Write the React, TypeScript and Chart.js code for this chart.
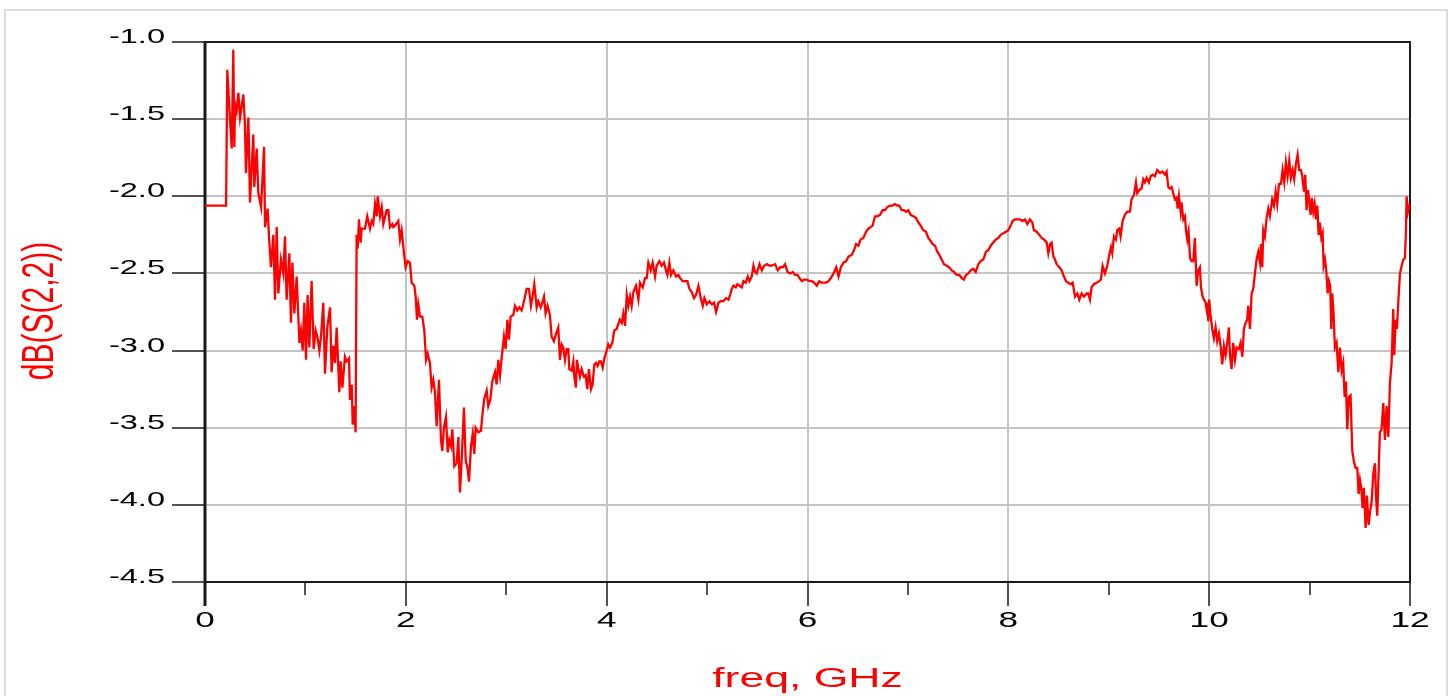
import React, { useEffect, useRef } from "react";
import { Chart, registerables } from "chart.js";

Chart.register(...registerables);

// ---- axes ----
const X_MIN = 0;
const X_MAX = 12;
const Y_MIN = -4.5;
const Y_MAX = -1.0;
const X_TITLE = "freq, GHz";
const Y_TITLE = "dB(S(2,2))";
const X_TICK_LABELS = ["0", "2", "4", "6", "8", "10", "12"];
const Y_TICK_LABELS = ["-1.0", "-1.5", "-2.0", "-2.5", "-3.0", "-3.5", "-4.0", "-4.5"];

// ---- dB(S(2,2)) vs freq (GHz) ----
const band0to2: [number, number][] = [
  [0, -2.06], [0.21, -2.06], [0.222, -1.18], [0.249, -1.5], [0.266, -1.69], [0.282, -1.05],
  [0.292, -1.68], [0.299, -1.4], [0.315, -1.45], [0.332, -1.33], [0.349, -1.49], [0.382, -1.34],
  [0.398, -1.54], [0.408, -1.85], [0.432, -1.49], [0.448, -2.04], [0.481, -1.6], [0.491, -1.94],
  [0.515, -1.69], [0.531, -1.98], [0.558, -2.07], [0.588, -1.68], [0.598, -2.2], [0.624, -2.08],
  [0.637, -2.26], [0.657, -2.46], [0.681, -2.25], [0.697, -2.67], [0.714, -2.2], [0.73, -2.63],
  [0.757, -2.41], [0.78, -2.5], [0.797, -2.26], [0.813, -2.67], [0.84, -2.37], [0.856, -2.82],
  [0.87, -2.43], [0.89, -2.76], [0.913, -2.52], [0.94, -2.95], [0.956, -2.87], [0.973, -3.0],
  [0.989, -2.69], [1.006, -3.06], [1.022, -2.64], [1.039, -2.98], [1.062, -2.55], [1.082, -2.99],
  [1.102, -2.87], [1.122, -2.92], [1.139, -3.0], [1.155, -2.91], [1.178, -2.69], [1.195, -3.15],
  [1.218, -2.85], [1.245, -2.72], [1.261, -3.14], [1.278, -2.97], [1.295, -3.08], [1.311, -2.85],
  [1.338, -3.27], [1.351, -3.07], [1.368, -3.24], [1.394, -3.04], [1.411, -3.07], [1.434, -3.05],
  [1.444, -3.32], [1.461, -3.22], [1.471, -3.48], [1.487, -3.36], [1.5, -3.53], [1.51, -2.25],
  [1.52, -2.34], [1.534, -2.15], [1.55, -2.3], [1.56, -2.21], [1.593, -2.21], [1.616, -2.13],
  [1.643, -2.21], [1.66, -2.16], [1.676, -2.18], [1.693, -2.05], [1.71, -2.13], [1.72, -2.0],
  [1.743, -2.13], [1.76, -2.07], [1.776, -2.18], [1.809, -2.09], [1.826, -2.09], [1.842, -2.2],
  [1.865, -2.18], [1.876, -2.2], [1.892, -2.19], [1.925, -2.16], [1.942, -2.28], [1.958, -2.22],
  [1.985, -2.39],
];

const band2to4: [number, number][] = [
  [1.998, -2.46], [2.018, -2.42], [2.041, -2.43], [2.058, -2.56], [2.085, -2.58], [2.098, -2.65],
  [2.111, -2.8], [2.124, -2.7], [2.141, -2.78], [2.164, -2.78], [2.184, -2.87], [2.201, -3.06],
  [2.217, -3.02], [2.24, -3.08], [2.257, -3.24], [2.274, -3.19], [2.29, -3.27], [2.307, -3.49],
  [2.33, -3.19], [2.35, -3.58], [2.363, -3.65], [2.38, -3.5], [2.4, -3.43], [2.417, -3.66],
  [2.433, -3.58], [2.45, -3.62], [2.463, -3.51], [2.483, -3.75], [2.506, -3.73], [2.523, -3.56],
  [2.539, -3.92], [2.556, -3.71], [2.579, -3.37], [2.596, -3.71], [2.616, -3.77], [2.629, -3.85],
  [2.649, -3.62], [2.666, -3.54], [2.682, -3.67], [2.695, -3.5], [2.722, -3.53], [2.748, -3.52],
  [2.765, -3.4], [2.782, -3.31], [2.805, -3.26], [2.821, -3.36], [2.841, -3.32], [2.861, -3.2],
  [2.888, -3.14], [2.904, -3.22], [2.921, -3.06], [2.938, -3.16], [2.954, -3.05], [2.977, -2.91],
  [2.994, -2.99], [3.011, -2.8], [3.027, -2.93], [3.044, -2.78], [3.07, -2.77], [3.087, -2.71],
  [3.11, -2.74], [3.13, -2.72], [3.153, -2.74], [3.18, -2.67], [3.203, -2.6], [3.226, -2.6],
  [3.246, -2.71], [3.26, -2.66], [3.279, -2.57], [3.303, -2.72], [3.319, -2.68], [3.343, -2.72],
  [3.359, -2.69], [3.376, -2.65], [3.392, -2.76], [3.412, -2.71], [3.435, -2.77], [3.452, -2.91],
  [3.475, -2.94], [3.492, -2.9], [3.518, -2.85], [3.535, -3.06], [3.552, -2.96], [3.568, -2.98],
  [3.585, -3.06], [3.601, -2.99], [3.618, -2.99], [3.628, -3.12], [3.651, -3.13], [3.668, -3.07],
  [3.678, -3.17], [3.694, -3.24], [3.704, -3.06], [3.718, -3.12], [3.734, -3.17], [3.751, -3.12],
  [3.774, -3.17], [3.791, -3.16], [3.807, -3.25], [3.824, -3.12], [3.844, -3.25], [3.86, -3.22],
  [3.877, -3.09], [3.894, -3.08], [3.91, -3.1], [3.927, -3.07], [3.943, -3.07], [3.96, -3.11],
  [3.977, -3.05],
];

const band4to6: [number, number][] = [
  [4.0, -3.0], [4.016, -2.96], [4.033, -2.98], [4.056, -2.95], [4.076, -2.87], [4.1, -2.86],
  [4.13, -2.8], [4.15, -2.82], [4.166, -2.76], [4.183, -2.84], [4.2, -2.64], [4.216, -2.71],
  [4.233, -2.65], [4.249, -2.71], [4.266, -2.62], [4.292, -2.58], [4.316, -2.67], [4.332, -2.56],
  [4.359, -2.59], [4.382, -2.53], [4.399, -2.53], [4.415, -2.43], [4.439, -2.48], [4.458, -2.43],
  [4.482, -2.52], [4.498, -2.45], [4.525, -2.42], [4.548, -2.45], [4.571, -2.43], [4.591, -2.48],
  [4.605, -2.51], [4.625, -2.43], [4.641, -2.51], [4.664, -2.48], [4.691, -2.52], [4.714, -2.51],
  [4.731, -2.53], [4.757, -2.55], [4.781, -2.55], [4.804, -2.55], [4.824, -2.6], [4.847, -2.62],
  [4.87, -2.66], [4.89, -2.64], [4.914, -2.58], [4.937, -2.66], [4.957, -2.71], [4.973, -2.66],
  [4.997, -2.7], [5.023, -2.68], [5.047, -2.7], [5.07, -2.69], [5.09, -2.75], [5.113, -2.69],
  [5.136, -2.68], [5.163, -2.68], [5.189, -2.66], [5.213, -2.67], [5.229, -2.64], [5.246, -2.6],
  [5.262, -2.58], [5.286, -2.59], [5.302, -2.57], [5.322, -2.58], [5.346, -2.59], [5.362, -2.55],
  [5.385, -2.56], [5.405, -2.52], [5.422, -2.55], [5.445, -2.52], [5.462, -2.45], [5.478, -2.49],
  [5.495, -2.5], [5.522, -2.44], [5.545, -2.48], [5.568, -2.45], [5.595, -2.44], [5.621, -2.45],
  [5.645, -2.45], [5.678, -2.44], [5.704, -2.48], [5.728, -2.46], [5.754, -2.46], [5.777, -2.44],
  [5.801, -2.49], [5.827, -2.5], [5.854, -2.49], [5.877, -2.51], [5.9, -2.51], [5.92, -2.53],
  [5.944, -2.55], [5.967, -2.54], [5.993, -2.54],
];

const band6to8: [number, number][] = [
  [6.02, -2.55], [6.043, -2.55], [6.066, -2.56], [6.093, -2.58], [6.116, -2.55], [6.136, -2.56],
  [6.159, -2.56], [6.186, -2.56], [6.209, -2.55], [6.233, -2.53], [6.259, -2.5], [6.286, -2.46],
  [6.309, -2.52], [6.332, -2.46], [6.359, -2.43], [6.385, -2.42], [6.409, -2.39], [6.44, -2.38],
  [6.463, -2.35], [6.483, -2.31], [6.506, -2.32], [6.529, -2.28], [6.556, -2.27], [6.583, -2.23],
  [6.606, -2.21], [6.629, -2.2], [6.649, -2.19], [6.672, -2.13], [6.695, -2.13], [6.722, -2.12],
  [6.748, -2.09], [6.772, -2.09], [6.795, -2.07], [6.821, -2.06], [6.848, -2.06], [6.871, -2.05],
  [6.895, -2.06], [6.914, -2.06], [6.938, -2.09], [6.961, -2.09], [6.981, -2.1], [7.004, -2.09],
  [7.027, -2.12], [7.054, -2.13], [7.08, -2.14], [7.104, -2.17], [7.127, -2.19], [7.153, -2.22],
  [7.18, -2.23], [7.203, -2.27], [7.226, -2.29], [7.246, -2.31], [7.27, -2.32], [7.293, -2.36],
  [7.313, -2.38], [7.336, -2.41], [7.359, -2.44], [7.386, -2.45], [7.412, -2.46], [7.436, -2.48],
  [7.459, -2.49], [7.485, -2.51], [7.512, -2.51], [7.535, -2.53], [7.558, -2.54], [7.578, -2.51],
  [7.601, -2.5], [7.625, -2.48], [7.651, -2.47], [7.675, -2.49], [7.701, -2.44], [7.724, -2.42],
  [7.751, -2.41], [7.777, -2.36], [7.801, -2.35], [7.824, -2.32], [7.85, -2.3], [7.877, -2.28],
  [7.9, -2.27], [7.924, -2.25], [7.95, -2.24], [7.977, -2.23],
];

const band8to10: [number, number][] = [
  [8.0, -2.22], [8.023, -2.19], [8.043, -2.16], [8.066, -2.15], [8.089, -2.15], [8.116, -2.15],
  [8.143, -2.16], [8.166, -2.15], [8.189, -2.18], [8.216, -2.15], [8.239, -2.17], [8.255, -2.22],
  [8.282, -2.23], [8.308, -2.25], [8.332, -2.27], [8.355, -2.28], [8.382, -2.3], [8.398, -2.37],
  [8.415, -2.31], [8.431, -2.3], [8.448, -2.39], [8.465, -2.41], [8.481, -2.44], [8.508, -2.46],
  [8.531, -2.48], [8.548, -2.51], [8.574, -2.55], [8.597, -2.56], [8.621, -2.57], [8.641, -2.56],
  [8.664, -2.65], [8.687, -2.63], [8.707, -2.67], [8.73, -2.63], [8.753, -2.65], [8.78, -2.63],
  [8.796, -2.63], [8.813, -2.67], [8.829, -2.59], [8.852, -2.57], [8.879, -2.56], [8.906, -2.55],
  [8.922, -2.54], [8.939, -2.45], [8.962, -2.5], [8.985, -2.45], [9.005, -2.38], [9.022, -2.33],
  [9.035, -2.37], [9.052, -2.26], [9.071, -2.28], [9.085, -2.22], [9.105, -2.21], [9.118, -2.26],
  [9.138, -2.16], [9.161, -2.12], [9.184, -2.1], [9.211, -2.1], [9.227, -2.02], [9.251, -1.99],
  [9.271, -1.91], [9.284, -1.98], [9.304, -1.96], [9.327, -1.95], [9.344, -1.89], [9.36, -1.91],
  [9.377, -1.88], [9.4, -1.91], [9.417, -1.87], [9.437, -1.86], [9.46, -1.87], [9.483, -1.83],
  [9.51, -1.85], [9.536, -1.84], [9.56, -1.86], [9.576, -1.84], [9.593, -1.94], [9.609, -1.95],
  [9.626, -1.94], [9.642, -1.98], [9.659, -2.02], [9.676, -2.01], [9.686, -2.08], [9.699, -2.0],
  [9.716, -2.1], [9.725, -2.04], [9.742, -2.15], [9.759, -2.13], [9.769, -2.22], [9.782, -2.28],
  [9.795, -2.23], [9.809, -2.4], [9.825, -2.42], [9.842, -2.42], [9.858, -2.27], [9.875, -2.58],
  [9.891, -2.48], [9.908, -2.46], [9.918, -2.59], [9.935, -2.65], [9.948, -2.67], [9.965, -2.69],
  [9.974, -2.73], [9.984, -2.69], [9.991, -2.81],
];

const band10to12: [number, number][] = [
  [10.0, -2.67], [10.014, -2.77], [10.031, -2.86], [10.047, -2.92], [10.064, -2.85], [10.08, -2.94],
  [10.097, -2.89], [10.114, -2.97], [10.13, -3.09], [10.147, -2.97], [10.164, -3.03], [10.18, -2.95],
  [10.197, -2.85], [10.207, -3.03], [10.223, -3.12], [10.24, -2.95], [10.257, -3.06], [10.273, -2.98],
  [10.296, -2.99], [10.313, -2.95], [10.33, -3.04], [10.346, -2.86], [10.363, -2.82], [10.379, -2.8],
  [10.389, -2.71], [10.406, -2.86], [10.423, -2.63], [10.439, -2.6], [10.456, -2.5], [10.472, -2.41],
  [10.489, -2.36], [10.506, -2.43], [10.516, -2.31], [10.529, -2.46], [10.539, -2.22], [10.555, -2.26],
  [10.572, -2.14], [10.589, -2.08], [10.605, -2.13], [10.628, -2.02], [10.645, -2.06], [10.662, -1.97],
  [10.678, -2.05], [10.695, -1.92], [10.715, -1.92], [10.731, -1.83], [10.748, -1.91], [10.764, -1.78],
  [10.781, -1.87], [10.798, -1.77], [10.814, -1.88], [10.831, -1.83], [10.847, -1.89], [10.864, -1.79],
  [10.881, -1.73], [10.897, -1.83], [10.914, -1.83], [10.927, -1.87], [10.944, -1.97], [10.957, -1.86],
  [10.97, -2.09], [10.984, -1.96], [10.997, -2.03], [11.01, -2.12], [11.023, -2.01], [11.037, -2.1],
  [11.05, -2.05], [11.063, -2.15], [11.077, -2.06], [11.09, -2.25], [11.103, -2.17], [11.117, -2.27],
  [11.13, -2.24], [11.14, -2.45], [11.153, -2.41], [11.166, -2.48], [11.18, -2.63], [11.193, -2.55],
  [11.206, -2.58], [11.216, -2.86], [11.226, -2.63], [11.239, -2.76], [11.252, -2.98], [11.269, -2.95],
  [11.286, -3.14], [11.302, -2.98], [11.319, -3.13], [11.335, -3.08], [11.349, -3.3], [11.362, -3.2],
  [11.375, -3.51], [11.392, -3.3], [11.408, -3.29], [11.425, -3.65], [11.442, -3.72], [11.458, -3.76],
  [11.475, -3.76], [11.488, -3.93], [11.502, -3.84], [11.515, -3.89], [11.528, -4.02], [11.541, -3.89],
  [11.558, -4.15], [11.571, -3.94], [11.588, -4.13], [11.601, -4.05], [11.618, -3.98], [11.634, -3.8],
  [11.651, -3.73], [11.661, -3.94], [11.674, -4.07], [11.687, -3.8], [11.7, -3.53], [11.717, -3.51],
  [11.734, -3.34], [11.75, -3.58], [11.767, -3.36], [11.784, -3.56], [11.8, -3.21], [11.817, -3.08],
  [11.833, -2.73], [11.843, -3.03], [11.857, -2.8], [11.87, -2.86], [11.883, -2.69], [11.9, -2.5],
  [11.917, -2.45], [11.933, -2.41], [11.95, -2.4], [11.96, -2.22], [11.966, -2.0], [11.98, -2.1],
  [11.993, -2.06], [12.0, -2.06],
];

const FONT = '"Liberation Sans", Arial, sans-serif';

function stretchText(
  ctx: CanvasRenderingContext2D,
  text: string,
  x: number,
  y: number,
  sx: number,
  align: CanvasTextAlign
) {
  ctx.save();
  ctx.translate(x, y);
  ctx.scale(sx, 1);
  ctx.textAlign = align;
  ctx.textBaseline = "alphabetic";
  ctx.fillText(text, 0, 0);
  ctx.restore();
}

export default function App() {
  const canvasRef = useRef<HTMLCanvasElement | null>(null);

  useEffect(() => {
    const canvas = canvasRef.current;
    if (!canvas) return;

    const points = [...band0to2, ...band2to4, ...band4to6, ...band6to8, ...band8to10, ...band10to12].map(
      ([x, y]) => ({ x, y })
    );

    const decor = {
      id: "adsDecor",
      beforeDatasetsDraw(chart: any) {
        const { ctx, chartArea: a, scales } = chart;
        const xs = scales.x;
        const ys = scales.y;
        ctx.save();
        ctx.strokeStyle = "#1a1a1a";
        // tick marks
        ctx.lineWidth = 1.5;
        ys.ticks.forEach((t: any) => {
          const py = Math.round(ys.getPixelForValue(t.value));
          ctx.beginPath();
          ctx.moveTo(a.left - 33, py);
          ctx.lineTo(a.left, py);
          ctx.stroke();
        });
        xs.ticks.forEach((t: any) => {
          const px = Math.round(xs.getPixelForValue(t.value));
          const len = Math.round(t.value) % 2 === 0 ? 24 : 13;
          ctx.beginPath();
          ctx.moveTo(px, a.bottom);
          ctx.lineTo(px, a.bottom + len);
          ctx.stroke();
        });
        // frame
        ctx.lineWidth = 2;
        ctx.strokeRect(a.left, a.top, a.right - a.left, a.bottom - a.top);
        ctx.lineWidth = 3;
        ctx.beginPath();
        ctx.moveTo(a.left, a.top);
        ctx.lineTo(a.left, a.bottom + 24);
        ctx.stroke();
        ctx.restore();
      },
      afterDraw(chart: any) {
        const { ctx, chartArea: a, scales } = chart;
        const xs = scales.x;
        const ys = scales.y;
        ctx.save();
        // y tick labels
        ctx.fillStyle = "#000";
        ctx.font = `21px ${FONT}`;
        ys.ticks.forEach((t: any) => {
          const label = Y_TICK_LABELS.find((l) => Math.abs(parseFloat(l) - t.value) < 1e-6);
          if (!label) return;
          const py = ys.getPixelForValue(t.value);
          stretchText(ctx, label, a.left - 40, py + 1, 1.55, "right");
        });
        // x tick labels
        ctx.font = `22px ${FONT}`;
        xs.ticks.forEach((t: any) => {
          const label = X_TICK_LABELS.find((l) => Math.abs(parseFloat(l) - t.value) < 1e-6);
          if (!label) return;
          const px = xs.getPixelForValue(t.value);
          stretchText(ctx, label, px, a.bottom + 45, 1.6, "center");
        });
        // axis titles
        ctx.fillStyle = "#ff0000";
        ctx.font = `27px ${FONT}`;
        stretchText(ctx, X_TITLE, (a.left + a.right) / 2, 687, 1.65, "center");
        ctx.font = `30px ${FONT}`;
        ctx.save();
        ctx.translate(41, 311);
        ctx.scale(1.45, 1);
        ctx.rotate(-Math.PI / 2);
        ctx.textAlign = "center";
        ctx.textBaseline = "middle";
        ctx.fillText(Y_TITLE, 0, 0);
        ctx.restore();
        ctx.restore();
      },
    };

    const chart = new Chart(canvas, {
      type: "line",
      data: {
        datasets: [
          {
            data: points,
            borderColor: "#ff0000",
            borderWidth: 2.3,
            pointRadius: 0,
            tension: 0,
            fill: false,
          },
        ],
      },
      options: {
        animation: false,
        responsive: false,
        events: [],
        layout: { padding: { left: 0, top: 42, right: 38, bottom: 0 } },
        plugins: { legend: { display: false }, tooltip: { enabled: false } },
        scales: {
          x: {
            type: "linear",
            min: X_MIN,
            max: X_MAX,
            ticks: { stepSize: 1, display: false },
            grid: {
              drawTicks: false,
              lineWidth: 2,
              color: (c: any) => {
                const v = c.tick ? c.tick.value : 0;
                return v % 2 === 0 && v > X_MIN && v < X_MAX ? "#c4c4c4" : "rgba(0,0,0,0)";
              },
            },
            border: { display: false },
            afterFit: (s: any) => {
              s.height = 114;
            },
          },
          y: {
            type: "linear",
            min: Y_MIN,
            max: Y_MAX,
            ticks: { stepSize: 0.5, display: false },
            grid: {
              drawTicks: false,
              lineWidth: 2,
              color: (c: any) => {
                const v = c.tick ? c.tick.value : Y_MIN;
                return v > Y_MIN + 1e-6 && v < Y_MAX - 1e-6 ? "#c4c4c4" : "rgba(0,0,0,0)";
              },
            },
            border: { display: false },
            afterFit: (s: any) => {
              s.width = 205;
            },
          },
        },
      },
      plugins: [decor],
    } as any);

    return () => chart.destroy();
  }, []);

  return (
    <div
      style={{
        position: "fixed",
        left: 0,
        top: 0,
        width: 1448,
        height: 696,
        background: "#ffffff",
        overflow: "hidden",
      }}
    >
      <div
        style={{
          position: "absolute",
          left: 4,
          top: 9,
          width: 1440,
          height: 700,
          border: "2px solid #dcdcdc",
        }}
      />
      <canvas
        ref={canvasRef}
        width={1448}
        height={696}
        style={{ position: "absolute", left: 0, top: 0, width: 1448, height: 696 }}
      />
    </div>
  );
}
